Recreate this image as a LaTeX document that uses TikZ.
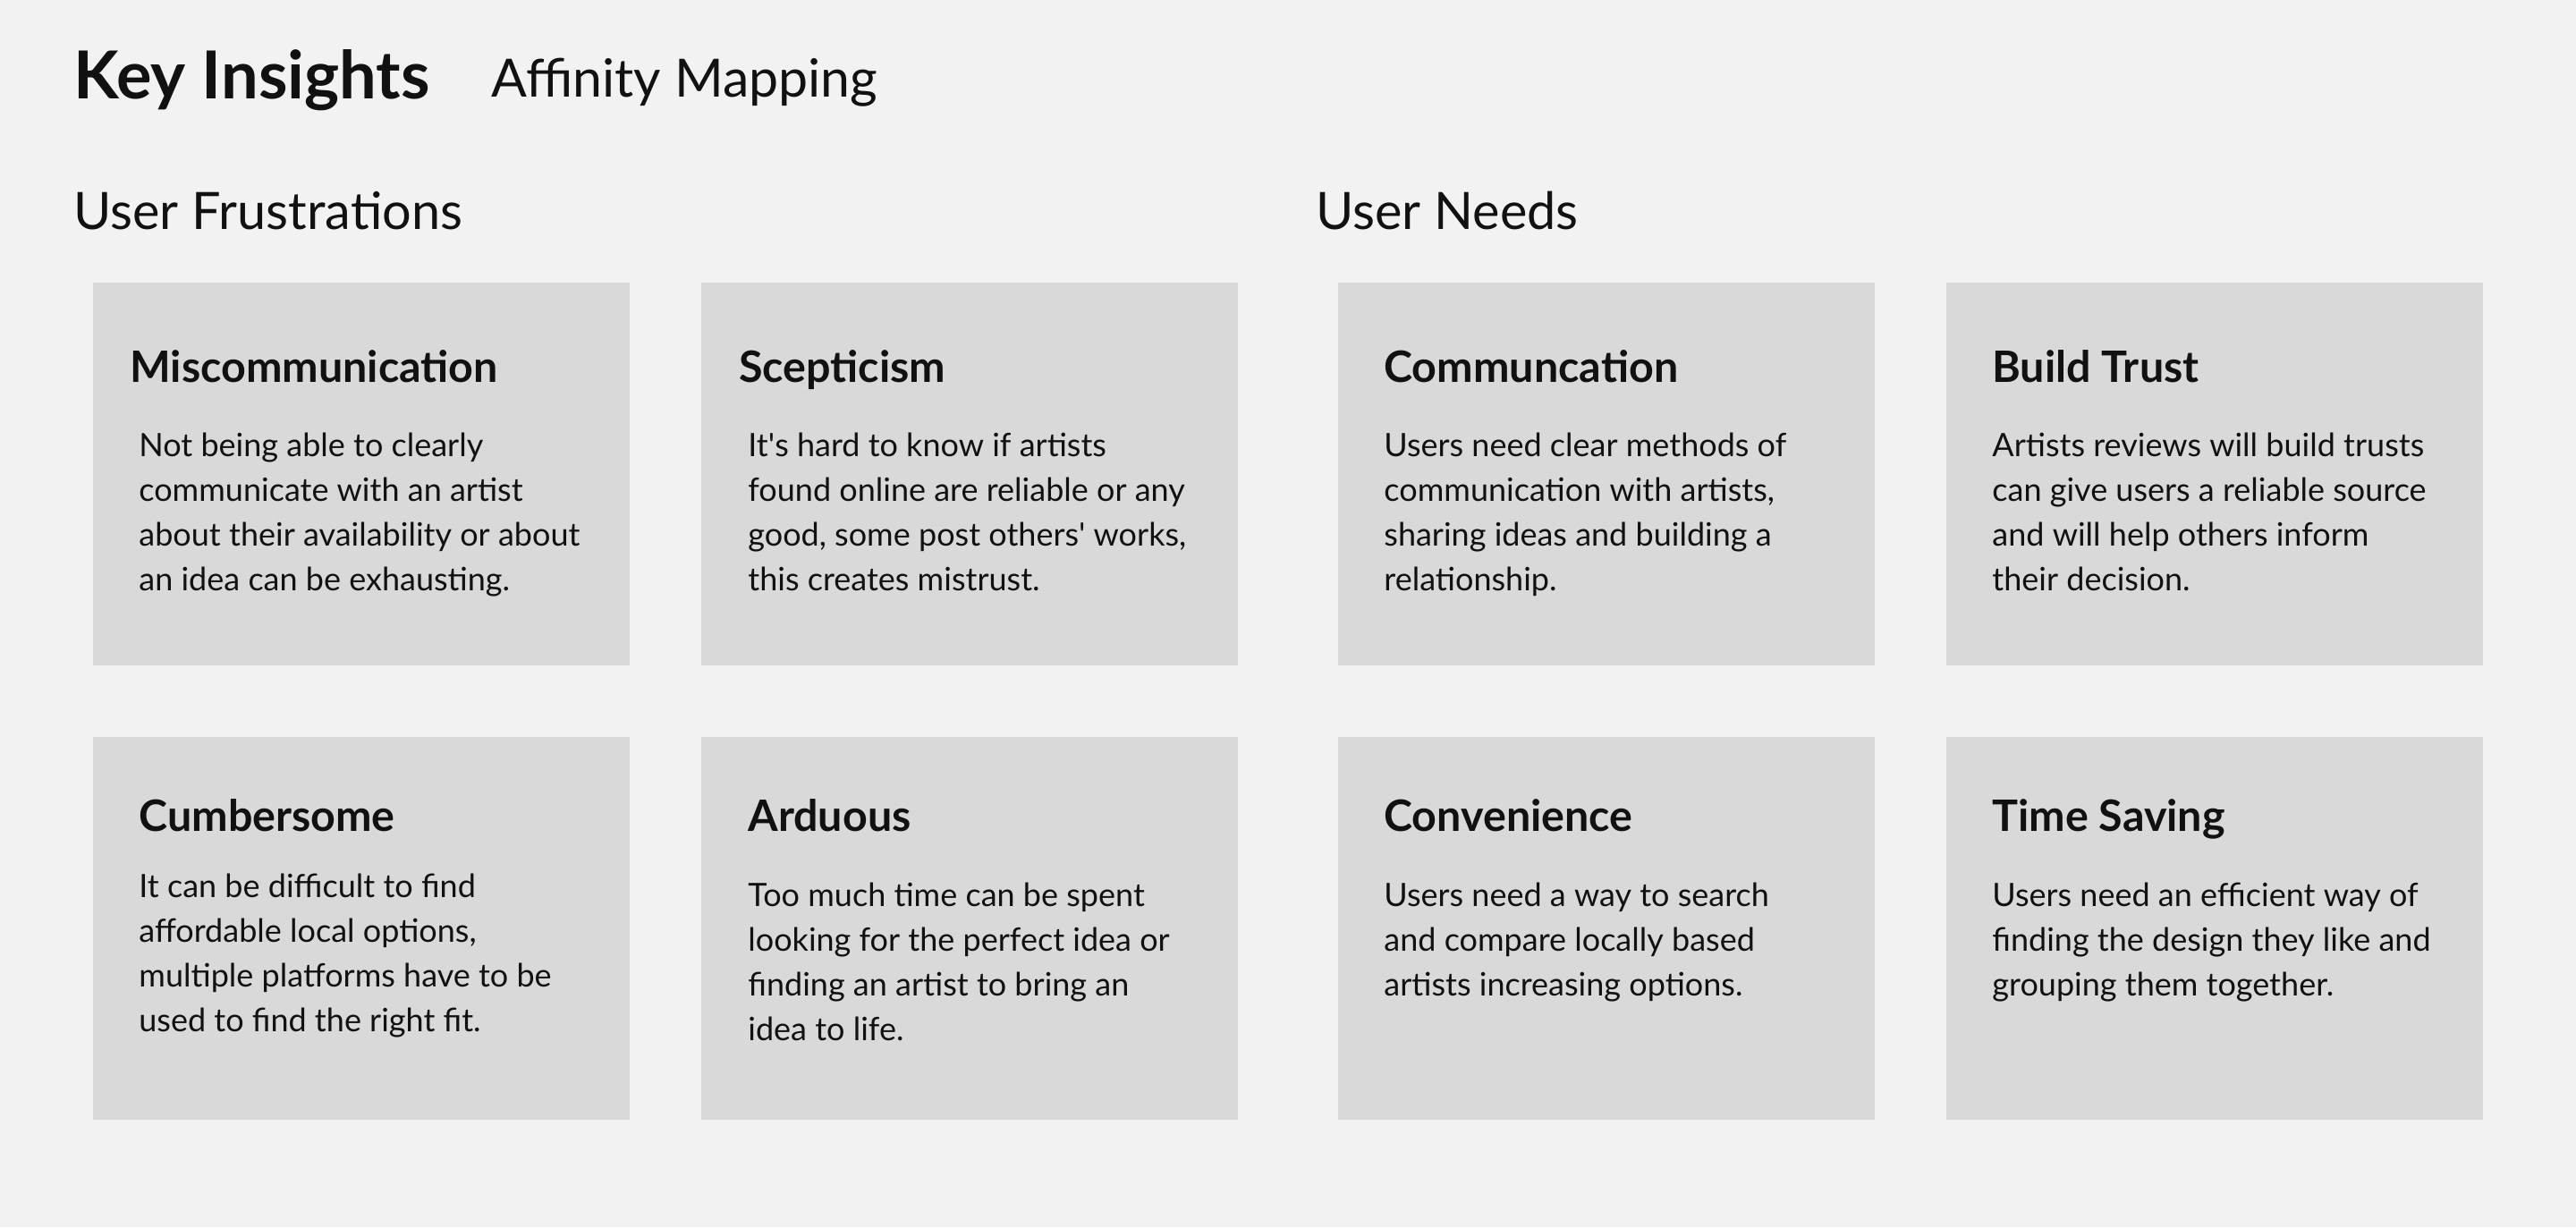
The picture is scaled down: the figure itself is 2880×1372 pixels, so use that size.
\documentclass[tikz,border=0pt]{standalone}
\usepackage{fontspec}
\setmainfont{Lato}
\definecolor{bgc}{HTML}{F2F2F2}
\definecolor{cardc}{HTML}{D9D9D9}
\definecolor{inkc}{HTML}{111111}
\begin{document}
\begin{tikzpicture}[x=0.5pt,y=-0.5pt,
  card/.style={fill=cardc,draw=none,anchor=north west,inner sep=0pt,minimum width=300pt,minimum height=214pt},
  bigtitle/.style={anchor=base west,inner sep=0pt,text=inkc,font=\fontsize{37}{42}\selectfont\bfseries},
  subtitle/.style={anchor=base west,inner sep=0pt,text=inkc,font=\fontsize{28.8}{34}\selectfont},
  ctitle/.style={anchor=base west,inner sep=0pt,text=inkc,font=\fontsize{24.2}{29}\selectfont\bfseries},
  cbody/.style={anchor=base west,inner sep=0pt,text=inkc,align=left,font=\fontsize{18}{25}\selectfont}]
\fill[bgc] (0,0) rectangle (2880,1372);
\useasboundingbox (0,0) rectangle (2880,1372);

\node[bigtitle] (key) at (82,110) {Key Insights};
\node[subtitle,font=\fontsize{29.5}{34}\selectfont] (aff) at (549,108) {Affinity Mapping};
\node[subtitle] (uf) at (82,256) {User Frustrations};
\node[subtitle] (un) at (1471,256) {User Needs};

\node[card] (c1) at (104,316) {};
\node[card] (c2) at (784,316) {};
\node[card] (c3) at (1496,316) {};
\node[card] (c4) at (2176,316) {};
\node[card] (c5) at (104,824) {};
\node[card] (c6) at (784,824) {};
\node[card] (c7) at (1496,824) {};
\node[card] (c8) at (2176,824) {};

% body nodes are anchored at the baseline of their last line
\node[ctitle] (t1) at (145,427) {Miscommunication};
\node[cbody] (d1) at (155,660) {Not being able to clearly\\communicate with an artist\\about their availability or about\\an idea can be exhausting.};

\node[ctitle] (t2) at (826,427) {Scepticism};
\node[cbody] (d2) at (836,660) {It\textquotesingle s hard to know if artists\\found online are reliable or any\\good, some post others\textquotesingle\ works,\\this creates mistrust.};

\node[ctitle] (t3) at (1547,427) {Communcation};
\node[cbody] (d3) at (1547,660) {Users need clear methods of\\communication with artists,\\sharing ideas and building a\\relationship.};

\node[ctitle] (t4) at (2227,427) {Build Trust};
\node[cbody] (d4) at (2227,660) {Artists reviews will build trusts\\can give users a reliable source\\and will help others inform\\their decision.};

\node[ctitle] (t5) at (155,929) {Cumbersome};
\node[cbody] (d5) at (155,1153) {It can be difficult to find\\affordable local options,\\multiple platforms have to be\\used to find the right fit.};

\node[ctitle] (t6) at (836,929) {Arduous};
\node[cbody] (d6) at (836,1163) {Too much time can be spent\\looking for the perfect idea or\\finding an artist to bring an\\idea to life.};

\node[ctitle] (t7) at (1547,929) {Convenience};
\node[cbody] (d7) at (1547,1113) {Users need a way to search\\and compare locally based\\artists increasing options.};

\node[ctitle] (t8) at (2227,929) {Time Saving};
\node[cbody] (d8) at (2227,1113) {Users need an efficient way of\\finding the design they like and\\grouping them together.};
\end{tikzpicture}
\end{document}
